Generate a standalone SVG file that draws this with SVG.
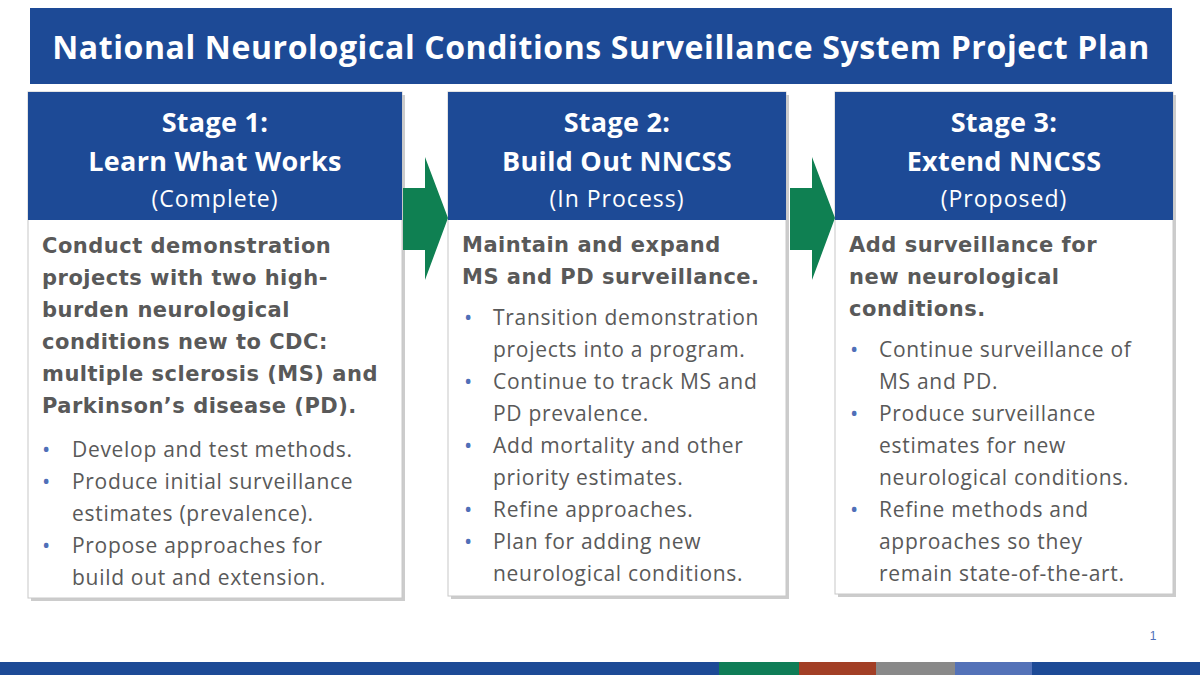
<svg xmlns="http://www.w3.org/2000/svg" width="1200" height="675" viewBox="0 0 1200 675">
<defs>
<style>
.hd{fill:#1d4a96}
.box{fill:#fff;stroke:#c8c8c8;stroke-width:1}
.sh{fill:#9a9a9a;opacity:0.5}
.h{font-family:"Open Sans",sans-serif;font-weight:bold;font-size:27px;fill:#fff;text-anchor:middle;letter-spacing:0.3px}
.hs{font-family:"Open Sans",sans-serif;font-size:23px;fill:#fff;text-anchor:middle;letter-spacing:1px}
.b{font-family:"DejaVu Sans",sans-serif;font-weight:bold;font-size:21px;fill:#595959;letter-spacing:0.5px}
.t{font-family:"Open Sans",sans-serif;font-size:21px;fill:#595959;letter-spacing:0.7px}
.d{font-family:"Open Sans",sans-serif;font-size:22px;fill:#4f6fb8}
.arr{fill:#0f8052}
</style>
</defs>
<rect width="1200" height="675" fill="#fff"/>
<g id="title">
<rect x="30" y="8" width="1142" height="76" fill="#1d4a96"/>
<text x="601" y="59" font-family="Open Sans, sans-serif" font-weight="bold" font-size="32" fill="#fff" text-anchor="middle" letter-spacing="0.6">National Neurological Conditions Surveillance System Project Plan</text>
</g>
<g id="stage1">
<rect class="sh" x="31" y="95" width="374" height="506"/>
<rect class="box" x="28" y="92" width="374" height="506"/>
<rect class="hd" x="28" y="92" width="374" height="128"/>
<text class="h" x="215" y="132">Stage 1:</text>
<text class="h" x="215" y="171">Learn What Works</text>
<text class="hs" x="215" y="207">(Complete)</text>
<text class="b" x="42" y="253">Conduct demonstration</text>
<text class="b" x="42" y="285">projects with two high-</text>
<text class="b" x="42" y="317">burden neurological</text>
<text class="b" x="42" y="349">conditions new to CDC:</text>
<text class="b" x="42" y="381">multiple sclerosis (MS) and</text>
<text class="b" x="42" y="413">Parkinson’s disease (PD).</text>
<text class="d" x="42" y="457">•</text><text class="t" x="72" y="457">Develop and test methods.</text>
<text class="d" x="42" y="489">•</text><text class="t" x="72" y="489">Produce initial surveillance</text>
<text class="t" x="72" y="521">estimates (prevalence).</text>
<text class="d" x="42" y="553">•</text><text class="t" x="72" y="553">Propose approaches for</text>
<text class="t" x="72" y="585">build out and extension.</text>
</g>
<g id="stage2">
<rect class="sh" x="451" y="95" width="338" height="504"/>
<rect class="box" x="448" y="92" width="338" height="504"/>
<rect class="hd" x="448" y="92" width="338" height="128"/>
<text class="h" x="617" y="132">Stage 2:</text>
<text class="h" x="617" y="171">Build Out NNCSS</text>
<text class="hs" x="617" y="207">(In Process)</text>
<text class="b" x="462" y="252">Maintain and expand</text>
<text class="b" x="462" y="284">MS and PD surveillance.</text>
<text class="d" x="464" y="325">•</text><text class="t" x="493" y="325">Transition demonstration</text>
<text class="t" x="493" y="357">projects into a program.</text>
<text class="d" x="464" y="389">•</text><text class="t" x="493" y="389">Continue to track MS and</text>
<text class="t" x="493" y="421">PD prevalence.</text>
<text class="d" x="464" y="453">•</text><text class="t" x="493" y="453">Add mortality and other</text>
<text class="t" x="493" y="485">priority estimates.</text>
<text class="d" x="464" y="517">•</text><text class="t" x="493" y="517">Refine approaches.</text>
<text class="d" x="464" y="549">•</text><text class="t" x="493" y="549">Plan for adding new</text>
<text class="t" x="493" y="581">neurological conditions.</text>
</g>
<g id="stage3">
<rect class="sh" x="838" y="95" width="338" height="502"/>
<rect class="box" x="835" y="92" width="338" height="502"/>
<rect class="hd" x="835" y="92" width="338" height="128"/>
<text class="h" x="1004" y="132">Stage 3:</text>
<text class="h" x="1004" y="171">Extend NNCSS</text>
<text class="hs" x="1004" y="207">(Proposed)</text>
<text class="b" x="849" y="252">Add surveillance for</text>
<text class="b" x="849" y="284">new neurological</text>
<text class="b" x="849" y="316">conditions.</text>
<text class="d" x="850" y="357">•</text><text class="t" x="879" y="357">Continue surveillance of</text>
<text class="t" x="879" y="389">MS and PD.</text>
<text class="d" x="850" y="421">•</text><text class="t" x="879" y="421">Produce surveillance</text>
<text class="t" x="879" y="453">estimates for new</text>
<text class="t" x="879" y="485">neurological conditions.</text>
<text class="d" x="850" y="517">•</text><text class="t" x="879" y="517">Refine methods and</text>
<text class="t" x="879" y="549">approaches so they</text>
<text class="t" x="879" y="581">remain state-of-the-art.</text>
</g>
<g id="connectors">
<polygon class="arr" points="403,188 425,188 425,157 448,218 425,280 425,250 403,250"/>
<polygon class="arr" points="790,188 812,188 812,157 835,218 812,280 812,250 790,250"/>
</g>
<text x="1153" y="640" font-family="Liberation Sans, sans-serif" font-size="12" fill="#4f6fb8" text-anchor="middle">1</text>
<rect x="0" y="662" width="719" height="13" fill="#1d4a96"/>
<rect x="719" y="662" width="80" height="13" fill="#0f7d57"/>
<rect x="799" y="662" width="77" height="13" fill="#a23f26"/>
<rect x="876" y="662" width="79" height="13" fill="#898989"/>
<rect x="955" y="662" width="77" height="13" fill="#5472b8"/>
<rect x="1032" y="662" width="168" height="13" fill="#1d4a96"/>
</svg>
